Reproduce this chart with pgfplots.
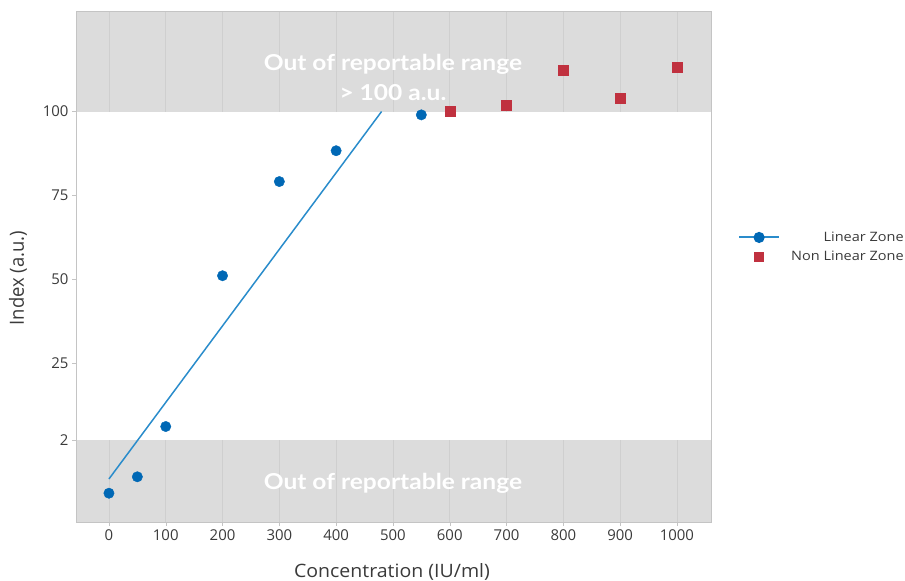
\documentclass[border=0pt]{standalone}
\usepackage{pgfplots}
\pgfplotsset{compat=1.18}
\usepackage{fontspec}
\setmainfont{Open Sans}
\newfontfamily\lato{Lato}
\definecolor{bluedot}{HTML}{0068B5}
\definecolor{blueline}{HTML}{2A8CCB}
\definecolor{redsq}{HTML}{C0313F}
\definecolor{bandgray}{HTML}{DCDCDC}
\definecolor{gridgray}{HTML}{CFCFCF}
\definecolor{axisgray}{HTML}{C4C4C4}
\definecolor{textgray}{HTML}{3A3A3A}
\begin{document}
\begin{tikzpicture}
\begin{axis}[
  at={(76bp,59.3bp)}, anchor=south west,
  width=635bp, height=510.7bp, scale only axis,
  set layers,
  xmin=-58, xmax=1060, ymin=-22.4, ymax=130,
  xtick={0,100,...,1000}, ytick={2,25,50,75,100},
  xtick pos=left, ytick pos=left,
  tick align=outside, major tick length=4bp,
  axis line style={draw=axisgray},
  tick style={draw=axisgray},
  ticklabel style={font=\fontsize{15}{17}\selectfont, text=textgray},
  /pgf/number format/assume math mode=true,
  /pgf/number format/1000 sep={},
  xlabel={Concentration (IU/ml)},
  ylabel={Index (a.u.)},
  label style={font=\fontsize{18.5}{21}\selectfont, text=textgray},
  xlabel style={at={(axis description cs:0.4976,-0.0985)}, anchor=center, xscale=1.06},
  ylabel style={at={(axis description cs:-0.0913,0.477)}, anchor=center, yscale=1.06},
  legend style={at={(axis description cs:1.3055,0.538)}, anchor=east,
    draw=none, fill=none, inner sep=0pt, font=\fontsize{13}{15}\selectfont,
    text=textgray, row sep=4bp, nodes={inner xsep=1bp, xscale=1.12},
    /tikz/every odd column/.append style={column sep=10bp}},
  legend cell align=right,
]
\begin{pgfonlayer}{axis background}
  \fill[bandgray] (axis cs:-58,100) rectangle (axis cs:1060,130);
  \fill[bandgray] (axis cs:-58,-22.4) rectangle (axis cs:1060,2);
\end{pgfonlayer}
\pgfplotsinvokeforeach{0,100,...,1000}{
  \begin{pgfonlayer}{axis background}
  \draw[gridgray, line width=0.6bp] (axis cs:#1,100) -- (axis cs:#1,130);
  \draw[gridgray, line width=0.6bp] (axis cs:#1,-22.4) -- (axis cs:#1,2);
  \end{pgfonlayer}
}
\node[font=\lato\bfseries\fontsize{22}{30}\selectfont, text=white, align=center, xscale=1.12]
  at (axis cs:500,110.2) {Out of reportable range\\> 100 a.u.};
\node[font=\lato\bfseries\fontsize{22}{30}\selectfont, text=white, xscale=1.12]
  at (axis cs:500,-11) {Out of reportable range};
\addplot[only marks, mark=*, mark size=5.2bp, color=bluedot, forget plot]
  coordinates {(0,-13.9) (50,-9) (100,6) (200,51) (300,79.1) (400,88.3) (550,99)};
\addplot[blueline, line width=1.5bp,
  legend image code/.code={
    \draw[blueline, line width=2bp] (0bp,0bp) -- (40bp,0bp);
    \fill[bluedot] (20bp,0bp) circle[radius=4.8bp];}]
  coordinates {(0,-9.65) (480,100)};
\addlegendentry{Linear Zone}
\addplot[only marks, mark=square*, mark size=5bp, color=redsq,
  legend image code/.code={
    \fill[redsq] (15.5bp,-4.5bp) rectangle (24.5bp,4.5bp);}]
  coordinates {(600,100) (700,102) (800,112.2) (900,104) (1000,113.1)};
\addlegendentry{Non Linear Zone}
\end{axis}
\pgfresetboundingbox
\useasboundingbox (0bp,0bp) rectangle (905bp,581bp);
\end{tikzpicture}
\end{document}
